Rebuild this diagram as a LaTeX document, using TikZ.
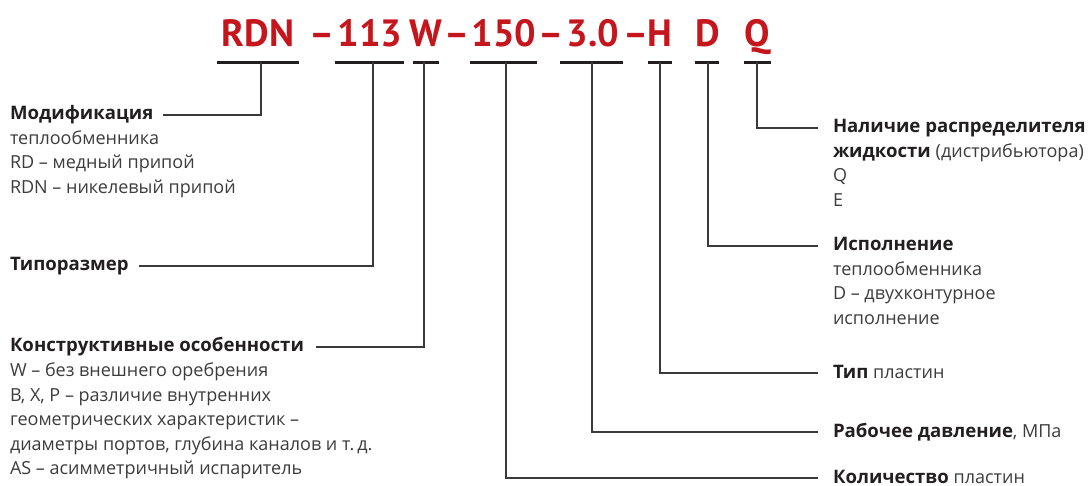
\documentclass[tikz,border=0pt]{standalone}
\usepackage{fontspec}
\setmainfont{PT Sans}
\newfontfamily\bodyfont{Open Sans}
\definecolor{titlered}{HTML}{C4161C}
\definecolor{txt}{HTML}{231F20}
\definecolor{txtr}{HTML}{3C3C3C}
\definecolor{ln}{HTML}{3A3A3A}
\begin{document}
\begin{tikzpicture}[x=1pt,y=-1pt,
  every node/.style={inner sep=0pt, outer sep=0pt},
  ttl/.style={font=\fontsize{38}{38}\selectfont\bfseries, text=titlered, anchor=base},
  bar/.style={line width=3.5pt, draw=txt},
  conn/.style={line width=1.7pt, draw=ln},
  hd/.style={font=\bodyfont\fontsize{18.6}{18.6}\selectfont\bfseries, text=txt, anchor=base west},
  tx/.style={font=\bodyfont\fontsize{18}{18}\selectfont, text=txtr, anchor=base west},
  rg/.style={font=\bodyfont\fontsize{18}{18}\selectfont\mdseries, text=txtr},
]
\useasboundingbox (0,0) rectangle (1090,486);

% title
\node[ttl] (tRDN) at (258,47) {RDN};
\node[ttl] (d1) at (322,47) {–};
\node[ttl] (t113) at (370,47) {113};
\node[ttl] (tW) at (426,47) {W};
\node[ttl] (d2) at (457,47) {–};
\node[ttl] (t150) at (504,47) {150};
\node[ttl] (d3) at (551,47) {–};
\node[ttl] (t30) at (593,47) {3.0};
\node[ttl] (d4) at (636.5,47) {–};
\node[ttl] (tH) at (660,47) {H};
\node[ttl] (tD) at (708,47) {D};
\node[ttl] (tQ) at (757,47) {Q};

% bars
\coordinate (b1) at (261,62.5);
\coordinate (b2) at (373,62.5);
\coordinate (b3) at (424,62.5);
\coordinate (b4) at (506,62.5);
\coordinate (b5) at (592,62.5);
\coordinate (b6) at (660,62.5);
\coordinate (b7) at (708,62.5);
\coordinate (b8) at (757,62.5);
\draw[bar] (217,62.5) -- (299,62.5);
\draw[bar] (335,62.5) -- (404,62.5);
\draw[bar] (413,62.5) -- (439,62.5);
\draw[bar] (470,62.5) -- (537,62.5);
\draw[bar] (560,62.5) -- (623,62.5);
\draw[bar] (648,62.5) -- (672,62.5);
\draw[bar] (695,62.5) -- (719,62.5);
\draw[bar] (744,62.5) -- (771,62.5);

% left texts
\node[hd] (mod) at (10,120) {Модификация};
\node[tx] (mod1) at (10,144.5) {теплообменника};
\node[tx] (mod2) at (10,169) {RD – медный припой};
\node[tx] (mod3) at (10,193.5) {RDN – никелевый припой};

\node[hd] (tip) at (10,271) {Типоразмер};

\node[hd] (kon) at (10,352) {Конструктивные особенности};
\node[tx] (kon1) at (10,376.5) {W – без внешнего оребрения};
\node[tx] (kon2) at (10,401) {B, X, P – различие внутренних};
\node[tx] (kon3) at (10,425.5) {геометрических характеристик –};
\node[tx] (kon4) at (10,450) {диаметры портов, глубина каналов и т.\,д.};
\node[tx] (kon5) at (10,474.5) {AS – асимметричный испаритель};

% right texts
\node[hd] (nal) at (833,133) {Наличие распределителя};
\node[hd] (nal1) at (833,157.5) {жидкости {\fontsize{18}{18}\selectfont\mdseries\color{txtr}(дистрибьютора)}};
\node[tx] (nal2) at (833,182) {Q};
\node[tx] (nal3) at (833,206.5) {E};

\node[hd] (isp) at (833,251) {Исполнение};
\node[tx] (isp1) at (833,275.5) {теплообменника};
\node[tx] (isp2) at (833,300) {D – двухконтурное};
\node[tx] (isp3) at (833,324.5) {исполнение};

\node[hd] (tpl) at (833,378) {Тип {\fontsize{18}{18}\selectfont\mdseries\color{txtr}пластин}};
\node[hd] (rab) at (833,437) {Рабочее давление{\fontsize{18}{18}\selectfont\mdseries\color{txtr}, МПа}};
\node[hd] (kol) at (833,483) {Количество {\fontsize{18}{18}\selectfont\mdseries\color{txtr}пластин}};

% connectors
\draw[conn] (b1) |- ([shift={(10,-5)}]mod.base east);
\draw[conn] (b2) |- ([shift={(10,-5)}]tip.base east);
\draw[conn] (b3) |- ([shift={(12,-5)}]kon.base east);
\draw[conn] (b4) |- ([shift={(-15,-5)}]kol.base west);
\draw[conn] (b5) |- ([shift={(-15,-5)}]rab.base west);
\draw[conn] (b6) |- ([shift={(-15,-5)}]tpl.base west);
\draw[conn] (b7) |- ([shift={(-15,-5)}]isp.base west);
\draw[conn] (b8) |- ([shift={(-15,-5)}]nal.base west);
\end{tikzpicture}
\end{document}
